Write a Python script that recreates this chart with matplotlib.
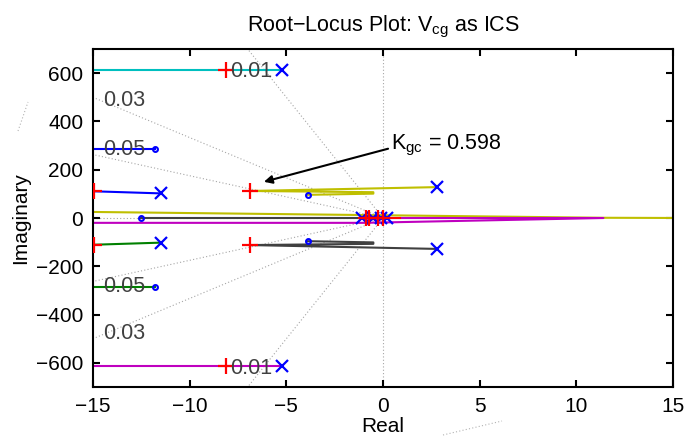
import matplotlib
matplotlib.use('Agg')
import matplotlib.pyplot as plt
import numpy as np
from matplotlib.lines import Line2D

plt.rcParams['font.family'] = ['Liberation Sans', 'DejaVu Sans']
plt.rcParams['mathtext.fontset'] = 'custom'
plt.rcParams['mathtext.rm'] = 'Liberation Sans'
plt.rcParams['mathtext.it'] = 'Liberation Sans'

# locus branches (real, imag)
branch_colors = [(0, 0.75, 0.75), 'b', 'b', (0, 0.5, 0), (0, 0.5, 0),
                 (0.75, 0.75, 0), (0.25, 0.25, 0.25), (0.25, 0.25, 0.25),
                 (0.75, 0.75, 0), (0.75, 0, 0.75), (0.75, 0, 0.75), 'r']
branch_re = [[-5.2, -16], [-11.5, -15.5], [-11.8, -16], [-11.5, -15.5], [-11.8, -16],
             [2.8, -6.9, -0.5, -0.5, -3.9], [2.8, -6.9, -0.5, -0.5, -3.9],
             [-12.5, 0.0], [-16, 11.4, 16], [-16, -1.0, 11.4, 0.0], [-16, -5.2], [-1.0, 0.9]]
branch_im = [[612, 612], [102, 112], [284, 284], [-102, -112], [-284, -284],
             [128, 112, 107, 101, 96], [-128, -112, -107, -101, -96],
             [0, 0], [26, 1, 0], [-20, -20, 0, 0], [-612, -612], [0, 0]]

# open-loop poles (x), zeros (o), closed-loop poles at K_gc (+)
pole_re = [-5.2, -5.2, -11.5, -11.5, 2.8, 2.8, -1.1, -0.5, -0.1, 0.2]
pole_im = [612, -612, 102, -102, 128, -128, 0, 0, 0, 0]
zero_re = [-11.8, -11.8, -3.9, -3.9, -12.5, -0.8, -0.3]
zero_im = [284, -284, 96, -96, 0, 0, 0]
cl_re = [-8.1, -8.1, -14.95, -14.95, -6.9, -6.9, -0.9, -0.7, -0.25, 0.0]
cl_im = [612, -612, 112, -112, 112, -112, 0, 0, 0, 0]

# damping grid
zeta_lines = [0.01, 0.03, 0.057]
zeta_text = ['0.01', '0.03', '0.05', '0.05', '0.03', '0.01']
zeta_text_re = [-7.9, -14.5, -14.5, -14.5, -14.5, -7.9]
zeta_text_im = [605, 486, 282, -282, -478, -624]

fig = plt.figure(figsize=(6.85, 4.38), dpi=100)
ax = fig.add_axes([0.1358, 0.1164, 0.8467, 0.7717])

grid_kw = dict(color=(0.65, 0.65, 0.65), ls=(0, (1, 2)), lw=0.8, zorder=1)
for z in zeta_lines:
    slope = np.sqrt(1 - z ** 2) / z
    x_end = max(-15, -700 / slope)
    ax.plot([0, x_end], [0, -x_end * slope], **grid_kw)
    ax.plot([0, x_end], [0, x_end * slope], **grid_kw)
ax.plot([0, 0], [-700, 700], **grid_kw)
ax.plot([-15, 0], [0, 0], **grid_kw)

for c, xr, yi in zip(branch_colors, branch_re, branch_im):
    ax.plot(xr, yi, color=c, lw=1.5, zorder=2)

ax.plot(zero_re, zero_im, 'o', ls='none', mfc='none', mec='b', ms=3.5, mew=1.5, zorder=4)
ax.plot(pole_re, pole_im, 'x', ls='none', color='b', ms=9, mew=1.6, zorder=4)
ax.plot(cl_re, cl_im, '+', ls='none', color='r', ms=12, mew=1.6, zorder=5)

for t, xr, yi in zip(zeta_text, zeta_text_re, zeta_text_im):
    ax.text(xr, yi, t, fontsize=15.5, color=(0.25, 0.25, 0.25), va='center', ha='left', zorder=6)

ax.annotate('', xy=(-6.3, 147), xytext=(0.4, 290),
            arrowprops=dict(arrowstyle='-|>', color='k', lw=1.5, mutation_scale=12))
ax.text(0.4, 300, r'K$_{\mathrm{gc}}$ = 0.598', fontsize=15.5, va='center', ha='left')

ax.set_xlim(-15, 15)
ax.set_ylim(-700, 700)
ax.set_xticks(np.arange(-15, 16, 5))
ax.set_yticks(np.arange(-600, 601, 200))
ax.tick_params(direction='in', top=True, right=True, labelsize=15, length=5, width=1.5, pad=7)
for s in ax.spines.values():
    s.set_linewidth(1.5)
ax.set_xlabel('Real', fontsize=15, labelpad=1)
ax.set_ylabel('Imaginary', fontsize=15, labelpad=4)
ax.set_title('Root\u2212Locus Plot: V$_{\\mathrm{cg}}$ as ICS', fontsize=15.5, pad=13)

# stray dotted fragments outside the axes
W, H = 685.0, 438.0
for (x0, y0), (x1, y1) in [((18, 131), (28, 102)), ((443, 435), (502, 421))]:
    fig.add_artist(Line2D([x0 / W, x1 / W], [1 - y0 / H, 1 - y1 / H],
                          transform=fig.transFigure, color=(0.7, 0.7, 0.7), ls=(0, (1, 2)), lw=0.8))

fig.savefig('out.png', dpi=100)
